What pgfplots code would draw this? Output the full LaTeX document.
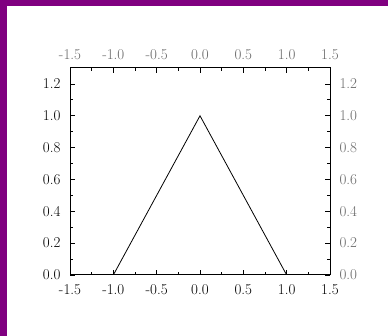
\documentclass[border=0pt]{standalone}
\usepackage{pgfplots}
\pgfplotsset{compat=1.18}
\definecolor{framepurple}{RGB}{128,0,128}
\definecolor{sidelabel}{RGB}{105,105,105}
\begin{document}
\begin{tikzpicture}[x=1pt,y=1pt]
\useasboundingbox (0,0) rectangle (388,336);
\fill[white] (0,0) rectangle (388,336);
\fill[framepurple] (0,0) rectangle (7,336);
\fill[framepurple] (0,330) rectangle (388,336);
\pgfplotsset{
  frame/.style={
    at={(70pt,61pt)}, anchor=south west,
    scale only axis, width=260pt, height=207pt,
    xmin=-1.5, xmax=1.5, ymin=0, ymax=1.3,
    xtick={-1.5,-1,-0.5,0,0.5,1,1.5},
    xticklabels={-1.5,-1.0,-0.5,0.0,0.5,1.0,1.5},
    ytick={0,0.2,0.4,0.6,0.8,1.0,1.2},
    yticklabels={0.0,0.2,0.4,0.6,0.8,1.0,1.2},
    minor x tick num=1, minor y tick num=1,
    tick align=inside,
    major tick length=5pt, minor tick length=3pt,
    every tick/.style={black, line width=0.8pt},
    axis line style={line width=1pt},
    tick label style={font=\fontsize{15}{17}\selectfont},
  }
}
% bottom and left labels in black
\begin{axis}[frame,
  xticklabel style={text=black, yshift=-6pt},
  yticklabel style={text=black, xshift=-6pt},
]
\addplot[black, line width=0.8pt] coordinates {(-1,0) (0,1) (1,0)};
\end{axis}
% top and right labels in grey
\begin{axis}[frame,
  xticklabel pos=upper, yticklabel pos=right,
  xticklabel style={text=sidelabel, yshift=5pt},
  yticklabel style={text=sidelabel, xshift=6pt},
]
\end{axis}
\end{tikzpicture}
\end{document}
